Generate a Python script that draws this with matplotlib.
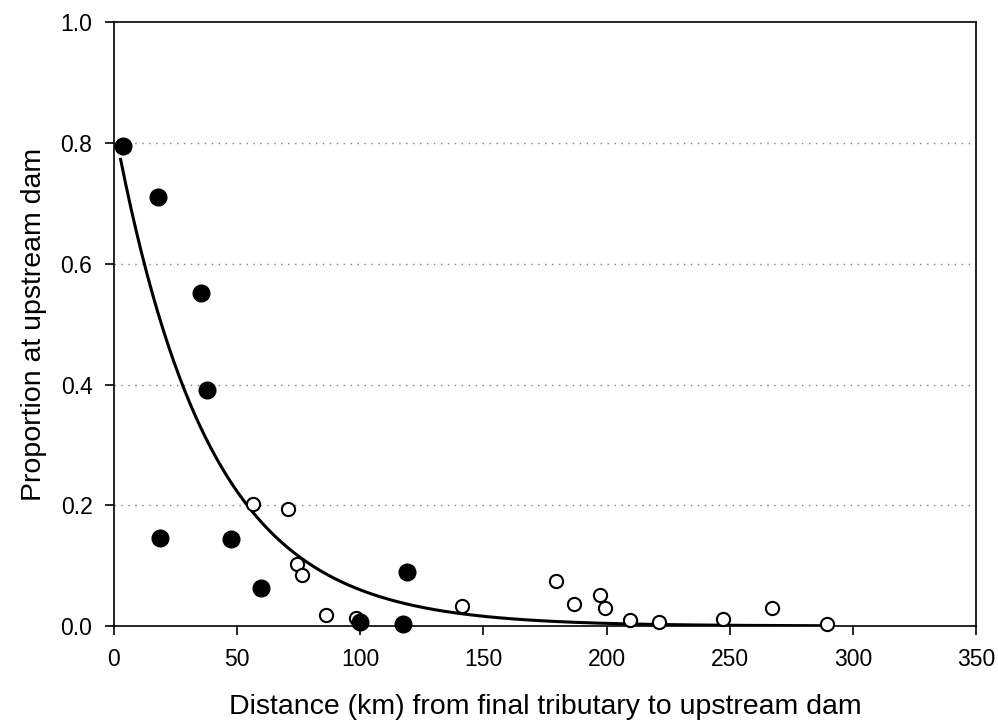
import numpy as np
import matplotlib
matplotlib.use("Agg")
import matplotlib.pyplot as plt

plt.rcParams['font.family'] = ['Liberation Sans', 'DejaVu Sans']

# filled circles
filled_x = [3.5, 18.0, 35.5, 37.7, 18.6, 47.4, 59.6, 99.7, 119.0, 117.3]
filled_y = [0.795, 0.711, 0.552, 0.391, 0.146, 0.144, 0.063, 0.007, 0.090, 0.003]

# open circles
open_x = [56.6, 70.5, 74.3, 76.4, 86.2, 98.1, 141.4, 179.5, 186.8, 197.3,
          199.3, 209.4, 221.3, 247.3, 267.0, 289.3]
open_y = [0.202, 0.194, 0.102, 0.085, 0.018, 0.014, 0.033, 0.075, 0.036, 0.052,
          0.030, 0.010, 0.007, 0.012, 0.029, 0.003]

# fitted exponential decay y = a * exp(-b * x)
fit_a = 0.83
fit_b = 0.0263
fit_range = (2.7, 289.3)

x_ticks = [0, 50, 100, 150, 200, 250, 300, 350]
y_ticks = [0.0, 0.2, 0.4, 0.6, 0.8, 1.0]


def main():
    fig = plt.figure(figsize=(9.98, 7.23), dpi=100)
    ax = fig.add_axes([0.1142, 0.1342, 0.8638, 0.8347])

    for y in y_ticks[1:-1]:
        ax.axhline(y, color='#808080', lw=1.0, ls=(0, (1, 4)), zorder=0)

    xs = np.linspace(fit_range[0], fit_range[1], 400)
    ax.plot(xs, fit_a * np.exp(-fit_b * xs), color='black', lw=2.2, zorder=2)

    ax.plot(open_x, open_y, 'o', ms=9.5, mfc='white', mec='black',
            mew=1.5, zorder=3, clip_on=False)
    ax.plot(filled_x, filled_y, 'o', ms=12, color='black', zorder=4,
            clip_on=False)

    ax.set_xlim(0, 350)
    ax.set_ylim(0, 1.0)
    ax.set_xticks(x_ticks)
    ax.set_yticks(y_ticks)
    ax.set_yticklabels(['%.1f' % v for v in y_ticks])
    ax.tick_params(direction='out', length=6.5, width=1.2, labelsize=16.5,
                   pad=9, colors='black')
    for s in ax.spines.values():
        s.set_linewidth(1.2)

    ax.set_xlabel('Distance (km) from final tributary to upstream dam',
                  fontsize=20.5, labelpad=17)
    ax.set_ylabel('Proportion at upstream dam', fontsize=20.5, labelpad=10)

    fig.savefig('out.png', dpi=100)


if __name__ == "__main__":
    main()
